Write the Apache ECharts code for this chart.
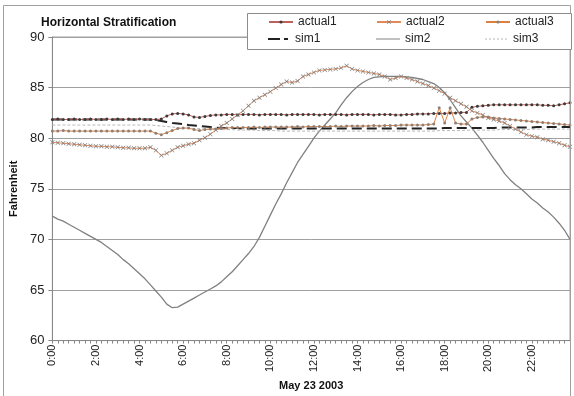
<!DOCTYPE html>
<html>
<head>
<meta charset="utf-8">
<title>Horizontal Stratification</title>
<script src="https://cdn.jsdelivr.net/npm/echarts@6/dist/echarts.min.js"></script>
<style>
html, body {margin: 0; padding: 0; background: #fff;}
#strat {width: 574px; height: 396px;}
</style>
</head>
<body>
<div id="strat"></div>
<script>
// 15 minute readings, 0:00 - 23:45
var times = [];
for (var h = 0; h < 24; h++) {
	times.push(h + ":00", h + ":15", h + ":30", h + ":45");
}

var yTicks = [60, 65, 70, 75, 80, 85, 90];

var actual1 = [
	81.85, 81.9, 81.85, 81.85, 81.9, 81.85, 81.85, 81.9,
	81.85, 81.85, 81.9, 81.85, 81.9, 81.85, 81.9, 81.85,
	81.9, 81.85, 81.85, 81.85, 81.9, 82.2, 82.4, 82.45,
	82.4, 82.3, 82.1, 82.05, 82.15, 82.25, 82.3, 82.3,
	82.35, 82.35, 82.3, 82.35, 82.35, 82.35, 82.3, 82.35,
	82.35, 82.35, 82.35, 82.3, 82.35, 82.35, 82.35, 82.35,
	82.35, 82.3, 82.35, 82.35, 82.35, 82.35, 82.3, 82.35,
	82.35, 82.35, 82.35, 82.3, 82.35, 82.35, 82.35, 82.3,
	82.3, 82.35, 82.35, 82.4, 82.4, 82.4, 82.45, 82.45,
	82.45, 82.5, 82.5, 82.55, 82.55, 83.05, 83.15, 83.2,
	83.25, 83.3, 83.3, 83.3, 83.3, 83.3, 83.3, 83.3,
	83.3, 83.3, 83.25, 83.25, 83.2, 83.3, 83.4, 83.5
];

var actual2 = [
	79.6, 79.55, 79.5, 79.45, 79.4, 79.35, 79.3, 79.25,
	79.2, 79.2, 79.15, 79.15, 79.1, 79.05, 79.05, 79.0,
	79.0, 79.0, 79.1, 78.8, 78.3, 78.5, 78.8, 79.1,
	79.25, 79.4, 79.5, 79.8, 80.05, 80.4, 80.8, 81.2,
	81.5, 81.9, 82.3, 82.7, 83.2, 83.7, 84.0, 84.3,
	84.6, 84.95, 85.3, 85.6, 85.5, 85.65, 86.1, 86.3,
	86.5, 86.7, 86.75, 86.8, 86.85, 86.95, 87.15, 86.85,
	86.7, 86.6, 86.5, 86.4, 86.3, 86.1, 85.8, 85.95,
	86.1, 85.95, 85.8, 85.6, 85.4, 85.2, 84.95, 84.7,
	84.4, 84.0, 83.7, 83.4, 83.1, 82.7, 82.5, 82.3,
	82.0, 81.85, 81.7, 81.5, 81.2, 80.9, 80.6, 80.35,
	80.2, 80.1, 79.9, 79.8, 79.65, 79.5, 79.3, 79.15
];

var actual3 = [
	80.7, 80.7, 80.75, 80.7, 80.7, 80.7, 80.7, 80.7,
	80.7, 80.7, 80.7, 80.7, 80.7, 80.7, 80.7, 80.7,
	80.7, 80.7, 80.7, 80.5, 80.35, 80.55, 80.75, 80.95,
	81.0, 81.0, 80.85, 80.75, 80.85, 80.9, 80.9, 80.95,
	81.0, 81.05, 81.05, 81.05, 81.05, 81.1, 81.05, 81.1,
	81.1, 81.1, 81.1, 81.1, 81.1, 81.15, 81.1, 81.15,
	81.15, 81.15, 81.15, 81.15, 81.2, 81.15, 81.2, 81.2,
	81.2, 81.2, 81.2, 81.25, 81.2, 81.25, 81.25, 81.25,
	81.3, 81.3, 81.3, 81.3, 81.3, 81.35, 81.4, 83.0,
	81.5, 83.0, 81.5, 81.4, 81.4, 81.9, 82.05, 82.1,
	82.1, 82.0, 81.95, 81.9, 81.85, 81.8, 81.75, 81.7,
	81.65, 81.6, 81.55, 81.5, 81.45, 81.4, 81.35, 81.3
];

var sim1 = [
	81.85, 81.85, 81.85, 81.85, 81.85, 81.85, 81.85, 81.85,
	81.85, 81.85, 81.85, 81.85, 81.85, 81.85, 81.85, 81.85,
	81.85, 81.85, 81.85, 81.8, 81.7, 81.6, 81.5, 81.45,
	81.4, 81.3, 81.25, 81.2, 81.15, 81.1, 81.05, 81.0,
	81.0, 81.0, 81.0, 80.95, 80.95, 80.95, 80.95, 80.95,
	80.95, 80.95, 80.95, 80.95, 80.95, 80.95, 80.95, 80.95,
	80.95, 80.95, 80.95, 80.95, 80.95, 80.95, 80.95, 80.95,
	80.95, 80.95, 80.95, 80.95, 80.95, 80.95, 80.95, 80.95,
	80.95, 80.95, 80.95, 80.95, 80.95, 80.95, 80.95, 80.95,
	81.0, 81.0, 81.0, 81.0, 81.0, 81.0, 81.0, 81.0,
	81.0, 81.0, 81.05, 81.05, 81.05, 81.05, 81.05, 81.05,
	81.05, 81.1, 81.1, 81.1, 81.1, 81.1, 81.1, 81.1
];

var sim2 = [
	72.3, 72.0, 71.8, 71.5, 71.2, 70.9, 70.6, 70.3,
	70.0, 69.7, 69.3, 68.9, 68.5, 68.0, 67.6, 67.1,
	66.6, 66.1, 65.5, 64.9, 64.3, 63.6, 63.25, 63.3,
	63.6, 63.9, 64.2, 64.5, 64.8, 65.1, 65.4, 65.8,
	66.3, 66.8, 67.4, 68.0, 68.6, 69.3, 70.2, 71.3,
	72.4, 73.5, 74.5, 75.6, 76.6, 77.6, 78.4, 79.2,
	80.0, 80.7, 81.3, 81.9, 82.5, 83.3, 84.0, 84.6,
	85.1, 85.5, 85.8, 86.0, 86.05, 86.1, 86.1, 86.1,
	86.1, 86.05, 86.0, 85.9, 85.8, 85.6, 85.4, 85.0,
	84.5, 83.8, 83.0, 82.2, 81.6, 81.0, 80.3, 79.6,
	78.8, 78.0, 77.3, 76.5, 75.9, 75.4, 75.0, 74.5,
	74.0, 73.6, 73.1, 72.7, 72.2, 71.6, 70.9, 70.0
];

var sim3 = [
	81.3, 81.3, 81.3, 81.3, 81.3, 81.3, 81.3, 81.3,
	81.3, 81.3, 81.3, 81.3, 81.3, 81.3, 81.3, 81.3,
	81.3, 81.3, 81.3, 81.25, 81.2, 81.15, 81.1, 81.05,
	81.0, 81.0, 80.95, 80.95, 80.9, 80.9, 80.9, 80.85,
	80.85, 80.85, 80.8, 80.8, 80.8, 80.8, 80.75, 80.75,
	80.75, 80.75, 80.7, 80.7, 80.7, 80.7, 80.7, 80.7,
	80.7, 80.7, 80.7, 80.7, 80.7, 80.7, 80.7, 80.7,
	80.7, 80.7, 80.7, 80.7, 80.7, 80.7, 80.7, 80.7,
	80.7, 80.7, 80.7, 80.7, 80.7, 80.7, 80.7, 80.75,
	80.75, 80.75, 80.75, 80.75, 80.8, 80.8, 80.8, 80.8,
	80.8, 80.8, 80.85, 80.85, 80.85, 80.85, 80.85, 80.85,
	80.9, 80.9, 80.9, 80.9, 80.9, 80.9, 80.9, 80.9
];

var font = "Liberation Sans, Arial, sans-serif";
// X shaped marker for actual2
var crossMark = "path://M0,1L1,0L5,4L9,0L10,1L6,5L10,9L9,10L5,6L1,10L0,9L4,5Z";
// legend icons for the sim lines (no markers)
var sim1Icon = "path://M0,0H12V2H0Z M16,0H20V2H16Z";
var sim2Icon = "path://M0,0H24V1H0Z";
var sim3Icon = "path://M0,0H2V1H0Z M4,0H6V1H4Z M8,0H10V1H8Z M12,0H14V1H12Z M16,0H18V1H16Z M20,0H22V1H20Z";

function legendAt(item, left, top, iconH) {
	return {
		data: [item],
		left: left,
		top: top,
		z: 20,
		itemWidth: 24,
		itemHeight: iconH,
		itemGap: 0,
		padding: 0,
		textStyle: {fontFamily: font, fontSize: 12, color: '#222', lineHeight: 14}
	};
}

function line1() {
	var chart = echarts.init(document.getElementById('strat'));
	var option = {
		animation: false,
		backgroundColor: '#fff',
		title: {
			text: 'Horizontal Stratification',
			left: 41,
			top: 17,
			padding: 0,
			textStyle: {fontFamily: font, fontSize: 12, fontWeight: 'bold', color: '#111'}
		},
		legend: [
			legendAt('actual1', 268, 15, 4),
			legendAt('actual2', 376, 15, 5),
			legendAt('actual3', 485, 15, 4),
			legendAt({name: 'sim1', icon: sim1Icon}, 268, 32, 2),
			legendAt({name: 'sim2', icon: sim2Icon}, 376, 32, 1),
			legendAt({name: 'sim3', icon: sim3Icon}, 485, 32, 1)
		],
		graphic: [
			{
				type: 'rect', z: 10, silent: true,
				shape: {x: 3.5, y: 5.5, width: 567, height: 400},
				style: {fill: 'none', stroke: '#a0a0a0', lineWidth: 1}
			},
			{
				type: 'rect', z: 10, silent: true,
				shape: {x: 247.5, y: 13.5, width: 324, height: 36},
				style: {fill: '#fff', stroke: '#8c8c8c', lineWidth: 1}
			}
		],
		grid: {
			left: 42,
			right: 4,
			top: 37,
			bottom: 49,
			show: true,
			borderColor: '#a0a0a0',
			borderWidth: 1
		},
		xAxis: {
			type: 'category',
			boundaryGap: false,
			data: times,
			name: 'May 23 2003',
			nameLocation: 'middle',
			nameGap: 34,
			nameTextStyle: {fontFamily: font, fontSize: 11, fontWeight: 'bold', color: '#111'},
			axisLine: {lineStyle: {color: '#888'}},
			axisTick: {interval: 0, length: 3, lineStyle: {color: '#888'}},
			axisLabel: {
				interval: 7,
				rotate: 90,
				margin: 4,
				fontFamily: font,
				fontSize: 11,
				color: '#222'
			},
			splitLine: {show: false}
		},
		yAxis: {
			type: 'value',
			min: yTicks[0],
			max: yTicks[yTicks.length - 1],
			interval: 5,
			name: 'Fahrenheit',
			nameLocation: 'middle',
			nameRotate: 90,
			nameGap: 24,
			nameTextStyle: {fontFamily: font, fontSize: 11, fontWeight: 'bold', color: '#111'},
			axisLine: {show: true, lineStyle: {color: '#888'}},
			axisTick: {show: true, length: 4, lineStyle: {color: '#888'}},
			axisLabel: {margin: 8, fontFamily: font, fontSize: 13, color: '#222'},
			splitLine: {lineStyle: {color: '#a0a0a0'}}
		},
		series: [
			{
				name: 'sim2',
				type: 'line',
				data: sim2,
				symbol: 'none',
				z: 2,
				itemStyle: {color: '#808080'},
				lineStyle: {color: '#808080', width: 1.3}
			},
			{
				name: 'sim3',
				type: 'line',
				data: sim3,
				symbol: 'none',
				z: 2,
				itemStyle: {color: '#b8b8b8'},
				lineStyle: {color: '#b8b8b8', width: 1, type: [3, 2]}
			},
			{
				name: 'sim1',
				type: 'line',
				data: sim1,
				symbol: 'none',
				z: 3,
				itemStyle: {color: '#222'},
				lineStyle: {color: '#222', width: 2, type: [10, 5]}
			},
			{
				name: 'actual1',
				type: 'line',
				data: actual1,
				symbol: 'circle',
				symbolSize: 3,
				showAllSymbol: true,
				z: 4,
				itemStyle: {color: '#3a3a3a'},
				lineStyle: {color: '#c0605a', width: 1}
			},
			{
				name: 'actual2',
				type: 'line',
				data: actual2,
				symbol: crossMark,
				symbolSize: 4.5,
				showAllSymbol: true,
				z: 4,
				itemStyle: {color: '#7a7a7a'},
				lineStyle: {color: '#e08a5a', width: 1}
			},
			{
				name: 'actual3',
				type: 'line',
				data: actual3,
				symbol: 'circle',
				symbolSize: 3,
				showAllSymbol: true,
				z: 4,
				itemStyle: {color: '#8c8078'},
				lineStyle: {color: '#dc8040', width: 1}
			}
		]
	};
	chart.setOption(option);
}

line1();
</script>
</body>
</html>
